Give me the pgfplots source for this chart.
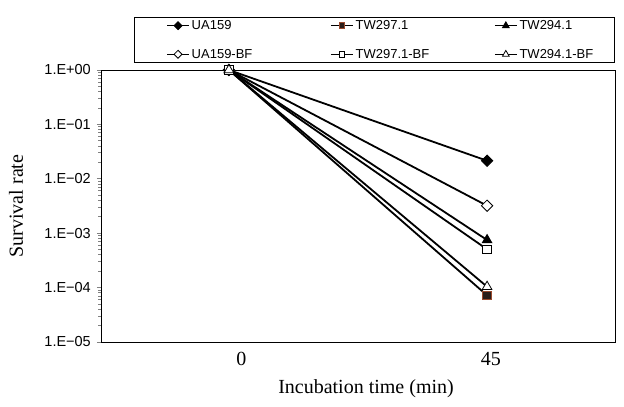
\documentclass[border=0pt]{standalone}
\usepackage{fontspec}
\setmainfont{Liberation Serif}
\newfontfamily\arial{Liberation Sans}
\usepackage{pgfplots}
\pgfplotsset{compat=1.18}
\definecolor{sqfill}{HTML}{2A1E1A}
\definecolor{sqdraw}{HTML}{9A4A2E}
\newcommand{\legtxt}[2]{\makebox[#1][l]{\fontsize{13}{15}\selectfont\arial #2}}
\begin{document}
\begin{tikzpicture}[x=1pt,y=1pt]
\useasboundingbox (0,0) rectangle (624,407);
\begin{axis}[
  at={(101pt,65pt)}, anchor=south west,
  scale only axis, width=514pt, height=272pt,
  xmin=-22.3, xmax=67.3,
  ymode=log, ymin=1e-5, ymax=1,
  axis line style={line width=0.9pt},
  xtick={2.18,45.65}, xticklabels={0,45},
  major x tick style={draw=none},
  xticklabel style={font=\fontsize{20}{24}\selectfont, yshift=-3pt},
  ytick={1e-5,1e-4,1e-3,1e-2,1e-1,1},
  yticklabels={1.E−05,1.E−04,1.E−03,1.E−02,1.E−01,1.E+00},
  yticklabel style={font=\fontsize{14.5}{16}\selectfont\arial, anchor=east, inner sep=0pt, xshift=-6pt},
  minor y tick num=0,
  tick align=outside, major tick length=4pt,
  y tick style={line width=0.9pt},
  xtick pos=bottom, ytick pos=left,
  xlabel={Incubation time (min)},
  ylabel={Survival rate},
  xlabel style={font=\fontsize{20}{24}\selectfont, at={(axis description cs:0.5156,-0.191)}, anchor=base},
  ylabel style={font=\fontsize{20}{24}\selectfont, at={(axis description cs:-0.1518,0.5)}, anchor=base},
  legend columns=3,
  legend cell align=left,
  legend style={at={(axis description cs:1,1.0257)}, anchor=south east,
    draw=black, line width=0.9pt, inner xsep=32pt, inner ysep=1pt,
    /tikz/every even column/.append style={column sep=0pt},
    row sep=14pt},
  legend image code/.code={\draw[#1, line width=1.4pt, mark repeat=2, mark phase=2, every mark/.append style={scale=0.7}] plot coordinates {(0pt,0pt) (11pt,0pt) (22pt,0pt)};},
  every axis plot/.append style={line width=1.8pt, black},
]
\addplot[mark=square*, mark size=4, mark options={rotate=45, fill=black, line width=0.8pt}] coordinates {(0,1) (45,0.0215)};
\addlegendentry{\legtxt{136.5pt}{UA159}}
\addplot[mark=square*, mark size=4.2, mark options={fill=sqfill, draw=sqdraw, line width=0.8pt}] coordinates {(0,1) (45,7.2e-5)};
\addlegendentry{\legtxt{136.5pt}{TW297.1}}
\addplot[mark=triangle*, mark size=5.5, mark options={fill=black, line width=0.8pt}] coordinates {(0,1) (45,7.5e-4)};
\addlegendentry{\legtxt{61pt}{TW294.1}}
\addplot[mark=square*, mark size=4, mark options={rotate=45, fill=white, line width=0.8pt}] coordinates {(0,1) (45,3.2e-3)};
\addlegendentry{\legtxt{136.5pt}{UA159-BF}}
\addplot[mark=square*, mark size=4.2, mark options={fill=white, line width=0.8pt}] coordinates {(0,1) (45,5.06e-4)};
\addlegendentry{\legtxt{136.5pt}{TW297.1-BF}}
\addplot[mark=triangle*, mark size=5.5, mark options={fill=white, line width=0.8pt}] coordinates {(0,1) (45,1.04e-4)};
\addlegendentry{\legtxt{61pt}{TW294.1-BF}}
\end{axis}
\end{tikzpicture}
\end{document}
